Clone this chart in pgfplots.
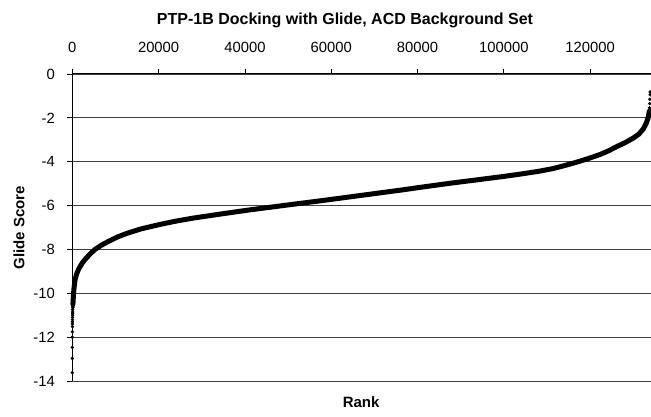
\documentclass[border=0pt]{standalone}
\usepackage{fontspec}
\setmainfont{Liberation Sans}
\usepackage{pgfplots}
\pgfplotsset{compat=1.18}
\begin{document}
\begin{tikzpicture}
\useasboundingbox (-72.3pt,-35pt) rectangle (578.7pt,381pt);
\begin{axis}[
  at={(0pt,0pt)}, anchor=south west,
  scale only axis, width=578.7pt, height=307pt,
  xmin=0, xmax=134100, ymin=-14, ymax=0,
  axis x line*=top, axis y line*=left,
  axis line style={black, line width=1pt, -},
  xtick={0,20000,40000,60000,80000,100000,120000},
  ytick={-14,-12,-10,-8,-6,-4,-2,0},
  scaled x ticks=false,
  xticklabel style={/pgf/number format/fixed, /pgf/number format/1000 sep={}, anchor=base, inner sep=0pt, yshift=16.7pt},
  yticklabel style={anchor=east, inner sep=0pt, xshift=-12.3pt},
  /pgf/number format/assume math mode=true,
  ticklabel style={font=\fontsize{14.8}{16}\selectfont},
  tick align=outside, major tick length=5pt,
  tick style={black, line width=0.8pt},
  ymajorgrids, grid style={black!75, line width=0.9pt},
  clip=false,
]
\addplot[black, line width=5pt, line join=round, line cap=round] coordinates {
(150,-10.5) (200,-10.3) (260,-10.1) (380,-9.8)
(630,-9.39) (1000,-9.12) (1400,-8.93) (1780,-8.79) (2300,-8.62) (3000,-8.45)
(4000,-8.23) (5260,-8.0) (6800,-7.8) (8500,-7.62) (10500,-7.43) (12600,-7.27)
(16000,-7.06) (20320,-6.86) (24000,-6.71) (28040,-6.57) (34230,-6.39)
(41000,-6.2) (48830,-6.0) (58000,-5.77) (66000,-5.56) (75950,-5.3) (80580,-5.17)
(88000,-4.97) (96040,-4.77) (100000,-4.67) (104000,-4.56) (108000,-4.44)
(111470,-4.31) (114000,-4.18) (116900,-4.02) (119500,-3.86) (122300,-3.67)
(124300,-3.5) (126170,-3.31) (128200,-3.12) (130010,-2.92) (131300,-2.74)
(132330,-2.5) (133000,-2.25) (133490,-1.96) (133700,-1.7)
};
\addplot[black, only marks, mark=*, mark size=1.5pt] coordinates {
(0,-13.62) (3,-12.97) (7,-12.47) (12,-12.0) (18,-11.75) (25,-11.52)
(30,-11.4) (35,-11.3) (42,-11.2) (50,-11.1) (60,-11.0) (70,-10.92) (80,-10.85)
(95,-10.75) (110,-10.66) (125,-10.6)
(133750,-1.55) (133800,-1.35) (133850,-1.15) (133900,-0.95) (133920,-0.82)
};
\end{axis}
\node[anchor=base, font=\bfseries\fontsize{16}{18}\selectfont] at (272.7pt,356.7pt) {PTP-1B Docking with Glide, ACD Background Set};
\node[anchor=base, font=\bfseries\fontsize{15}{18}\selectfont] at (288.8pt,-26pt) {Rank};
\node[rotate=90, font=\bfseries\fontsize{15}{18}\selectfont] at (-53.3pt,153.5pt) {Glide Score};
\end{tikzpicture}
\end{document}
